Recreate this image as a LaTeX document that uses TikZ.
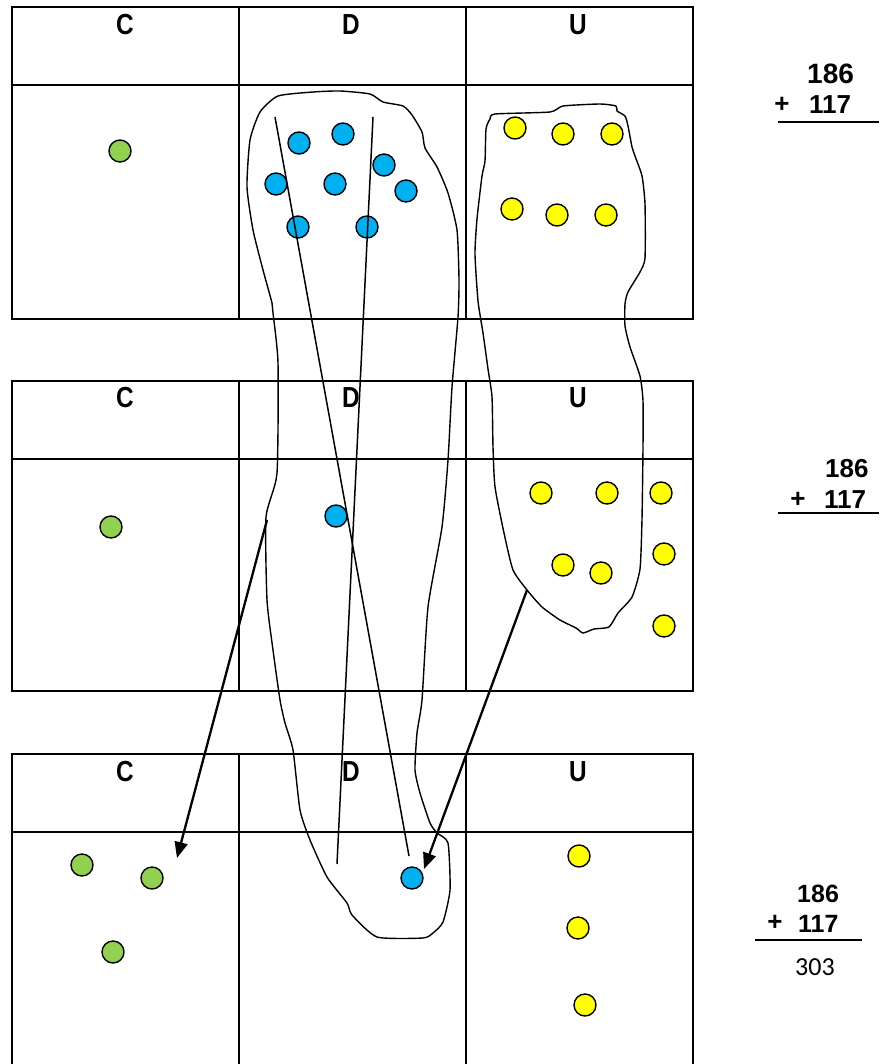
\documentclass[tikz,border=0pt]{standalone}
\usepackage{fontspec}
\setmainfont{Liberation Sans}
\newfontfamily\carlito{Carlito}
\usetikzlibrary{arrows.meta}
\definecolor{dotgreen}{HTML}{92D050}
\definecolor{dotblue}{HTML}{00B0F0}
\definecolor{dotyellow}{HTML}{FFFF00}
\newcommand{\hdrtext}[1]{\scalebox{0.84}[1]{#1}}
\begin{document}
\begin{tikzpicture}[x=1pt,y=-1pt,
  grid/.style={line width=2.4pt},
  blob/.style={line width=1.4pt, line join=round},
  thinline/.style={line width=1.5pt},
  arr/.style={line width=2.3pt, -{Triangle[length=16pt,width=13pt]}},
  dot/.style={circle, draw=black, line width=1.4pt, minimum size=22pt, inner sep=0pt},
  gdot/.style={dot, fill=dotgreen},
  bdot/.style={dot, fill=dotblue},
  ydot/.style={dot, fill=dotyellow},
  hdr/.style={font=\fontsize{29}{29}\selectfont\bfseries, inner sep=0pt},
  numA/.style={font=\fontsize{28}{28}\selectfont\bfseries, inner sep=0pt, anchor=base west},
  numB/.style={font=\fontsize{26}{26}\selectfont\bfseries, inner sep=0pt, anchor=base west},
  numC/.style={font=\fontsize{25}{25}\selectfont\bfseries, inner sep=0pt, anchor=base west},
  plus/.style={font=\fontsize{26}{26}\selectfont\bfseries, inner sep=0pt},
  res/.style={font=\fontsize{26}{26}\selectfont\carlito, inner sep=0pt, anchor=base west},
]
\useasboundingbox (0,0) rectangle (879,1064);
\clip (0,0) rectangle (879,1064);
\fill[white] (0,0) rectangle (879,1064);

% ---------- tables ----------
\draw[grid] (12,7) rectangle (693,319);
\draw[grid] (12,85) -- (693,85);
\draw[grid] (239,7) -- (239,319);
\draw[grid] (466,7) -- (466,319);

\draw[grid] (12,381) rectangle (693,691);
\draw[grid] (12,459) -- (693,459);
\draw[grid] (239,381) -- (239,691);
\draw[grid] (466,381) -- (466,691);

\draw[grid] (12,1070) -- (12,754) -- (693,754) -- (693,1070);
\draw[grid] (12,832) -- (693,832);
\draw[grid] (239,754) -- (239,1070);
\draw[grid] (466,754) -- (466,1070);

% headers
\foreach \yy/\t in {25/1,398/2,772/3}{
  \node[hdr] (c\t) at (125,\yy) {\hdrtext{C}};
  \node[hdr] (d\t) at (351,\yy) {\hdrtext{D}};
  \node[hdr] (u\t) at (578,\yy) {\hdrtext{U}};
}

% ---------- blobs ----------
\draw[blob] plot[smooth cycle, tension=0.35] coordinates {
(278,96) (313,92) (340,91) (370,94) (383,102) (403,106) (412,115) (422,132)
(425,148) (437,167) (448,193) (457,230) (459,280) (458,317) (452,387) (448,460)
(442,527) (428,607) (422,700) (417,733) (415,770) (420,793) (430,823) (437,833)
(448,843) (450,890) (443,922) (433,933) (423,938) (377,937) (352,915) (347,903)
(327,877) (310,840) (300,810) (293,750) (285,723) (280,700) (273,650) (267,600)
(266,517) (277,473) (278,363) (273,313) (272,303) (263,270) (253,230) (247,187)
(250,140) (260,112)};

\draw[blob] plot[smooth cycle, tension=0.35] coordinates {
(495,114) (550,112) (563,106) (600,104) (616,106) (617,111) (625,116) (628,126)
(632,147) (635,156) (642,176) (645,204) (645,258) (640,272) (628,292) (625,304)
(625,326) (630,347) (640,376) (643,401) (643,447) (642,519) (640,569) (632,597)
(618,613) (609,627) (594,629) (583,633) (576,628) (560,620) (542,607) (527,590)
(513,570) (504,533) (495,487) (493,447) (492,397) (488,369) (483,333) (478,301)
(475,254) (477,219) (482,176) (485,161) (486,129) (490,119)};

% ---------- dots ----------
\node[gdot] (g1) at (120,151) {};
\node[gdot] (g2) at (111,527) {};
\node[gdot] (g3) at (82,865) {};
\node[gdot] (g4) at (152,878) {};
\node[gdot] (g5) at (113,952) {};

\node[bdot] (b1) at (299,143) {};
\node[bdot] (b2) at (343,134) {};
\node[bdot] (b3) at (384,165) {};
\node[bdot] (b4) at (406,191) {};
\node[bdot] (b5) at (276,184) {};
\node[bdot] (b6) at (335,184) {};
\node[bdot] (b7) at (298,227) {};
\node[bdot] (b8) at (367,227) {};
\node[bdot] (b9) at (336,516) {};
\node[bdot] (b10) at (412,878) {};

\node[ydot] (y1) at (515,128) {};
\node[ydot] (y2) at (563,134) {};
\node[ydot] (y3) at (612,134) {};
\node[ydot] (y4) at (512,209) {};
\node[ydot] (y5) at (557,215) {};
\node[ydot] (y6) at (606,215) {};
\node[ydot] (y7) at (541,493) {};
\node[ydot] (y8) at (607,493) {};
\node[ydot] (y9) at (661,493) {};
\node[ydot] (y10) at (664,554) {};
\node[ydot] (y11) at (563,565) {};
\node[ydot] (y12) at (601,573) {};
\node[ydot] (y13) at (664,626) {};
\node[ydot] (y14) at (579,856) {};
\node[ydot] (y15) at (578,928) {};
\node[ydot] (y16) at (585,1005) {};

% ---------- lines and arrows ----------
\coordinate (la1) at (275,117);
\coordinate (la2) at (409,856);
\coordinate (lb1) at (373,117);
\coordinate (lb2) at (337,864);
\draw[thinline] (la1) -- (la2);
\draw[thinline] (lb1) -- (lb2);

\coordinate (a1s) at (267,520);
\coordinate (a1e) at (177,858);
\coordinate (a2s) at (527,590);
\coordinate (a2e) at (424,869);
\draw[arr] (a1s) -- (a1e);
\draw[arr] (a2s) -- (a2e);

% ---------- sums ----------
\node[numA] (s1a) at (807,84) {186};
\node[plus] (s1p) at (782,105) {+};
\node[numB] (s1b) at (809,114) {117};
\draw[line width=1.6pt] (778,122) -- (879,122);

\node[numB] (s2a) at (825,477) {186};
\node[plus] (s2p) at (798,500) {+};
\node[numB] (s2b) at (824,508) {117};
\draw[line width=1.6pt] (778,513) -- (879,513);

\node[numC] (s3a) at (797,902) {186};
\node[plus] (s3p) at (775,923) {+};
\node[numC] (s3b) at (798,932) {117};
\draw[line width=1.6pt] (755,940) -- (862,940);
\node[res] (s3r) at (795,975) {303};
\end{tikzpicture}
\end{document}
